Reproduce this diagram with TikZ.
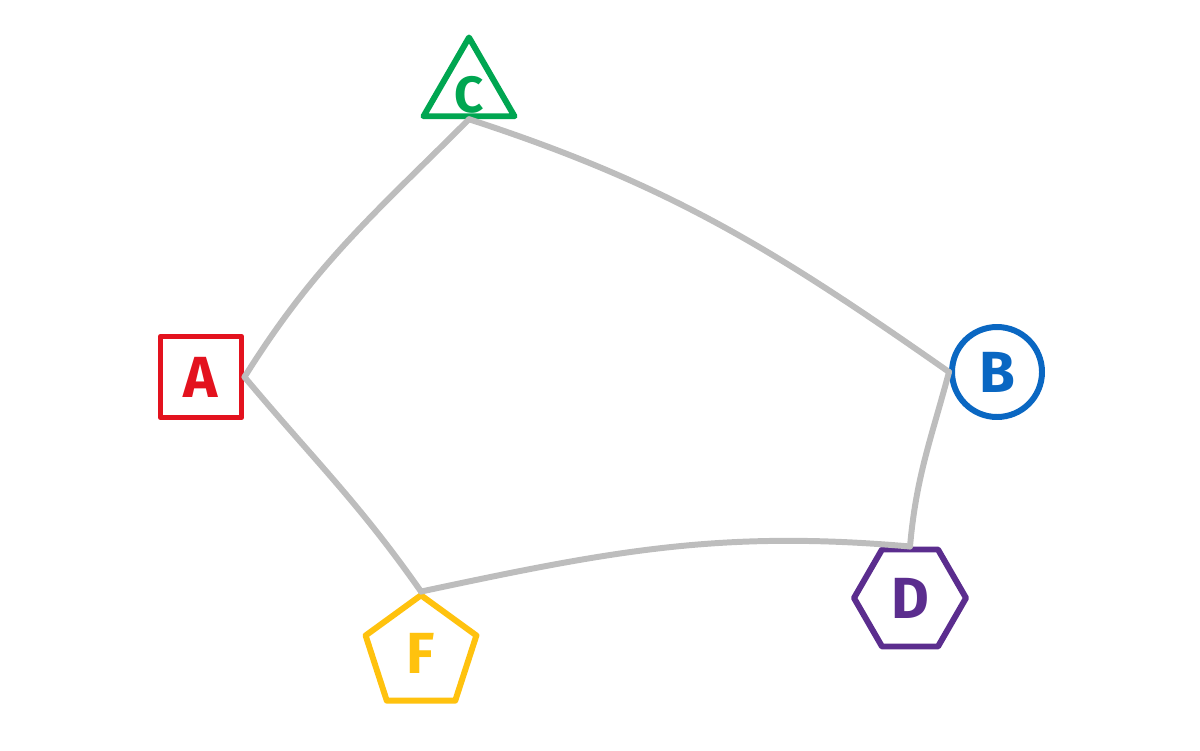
\documentclass[tikz,border=0pt]{standalone}
\usepackage{fontspec}
\setsansfont{Fira Sans}
\usetikzlibrary{shapes.geometric}

\definecolor{penred}{HTML}{E3121E}
\definecolor{pengreen}{HTML}{00A651}
\definecolor{penblue}{HTML}{0A67C2}
\definecolor{penpurple}{HTML}{5B2D8E}
\definecolor{penyellow}{HTML}{FFC20E}
\definecolor{linkgray}{HTML}{BDBDBD}

\tikzset{
  letter/.style={font=\sffamily\bfseries\fontsize{33}{33}\selectfont},
  shapebox/.style={draw=#1, text=#1, line width=3.4pt, line join=round,
    inner sep=0pt, letter},
  link/.style={draw=linkgray, line width=3.4pt, line cap=round}
}

\begin{document}
\begin{tikzpicture}

  \useasboundingbox (0,0) rectangle (24,15);

  % node A
  \node [shapebox=penred, rectangle, minimum size=1.62cm] (a) at (4.02,7.46) {A};

  % node C
  \node [shapebox=pengreen, regular polygon, regular polygon sides=3,
         minimum size=2.1cm,
         label={[text=pengreen, font=\sffamily\bfseries\fontsize{29}{29}\selectfont,
                 yshift=-3pt]center:C}]
         (c) at (9.38,13.2) {};

  % node B
  \node [shapebox=penblue, circle, minimum size=1.8cm] (b) at (19.94,7.56) {B};

  % node D
  \node [shapebox=penpurple, regular polygon, regular polygon sides=6,
         minimum size=2.24cm] (d) at (18.2,3.04) {D};

  % node F
  \node [shapebox=penyellow, regular polygon, regular polygon sides=5,
         minimum size=2.33cm] (f) at (8.42,1.93) {F};

  % links
  \draw [link] (a.east) to [out=58, in=225] (c.south);
  \draw [link] (c.south) to [out=-18, in=145] (b.west);
  \draw [link] (b.west) to [out=-105, in=85] (d.north);
  \draw [link] (d.north) to [out=175, in=12] (f.corner 1);
  \draw [link] (f.corner 1) to [out=125, in=-50] (a.east);

\end{tikzpicture}
\end{document}
